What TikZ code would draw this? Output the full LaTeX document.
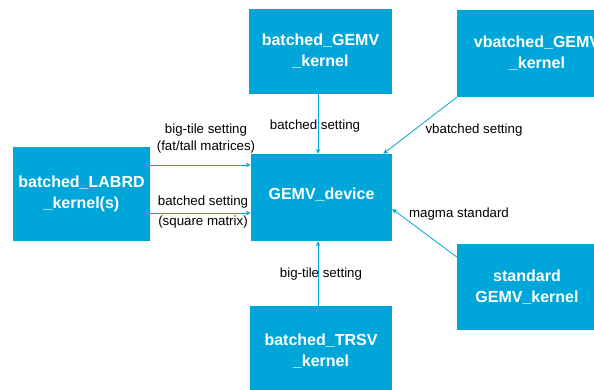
\documentclass[tikz,border=0pt]{standalone}
\usepackage{fontspec}
\setmainfont{Liberation Sans}
\usetikzlibrary{arrows.meta}
\definecolor{boxblue}{RGB}{0,166,218}
\tikzset{
  box/.style={rectangle, fill=boxblue, draw=none, text=white, align=center,
    font=\fontsize{16}{21}\selectfont\bfseries, inner sep=0pt},
  lbl/.style={font=\fontsize{13.3}{17}\selectfont, text=black, align=center, inner sep=0pt},
  conn/.style={draw=boxblue, line width=0.8pt, -{Stealth[length=5pt,width=4.5pt]}}
}
\begin{document}
\begin{tikzpicture}[x=1pt,y=-1pt]
\useasboundingbox (0,0) rectangle (594,390);
\clip (0,0) rectangle (594,390);
\fill[white] (0,0) rectangle (594,390);
\node[box, minimum width=137pt, minimum height=94pt] (lab) at (81.5,194) {batched\_LABRD\\\_kernel(s)};
\node[box, minimum width=141pt, minimum height=87pt] (gemv) at (321.5,197.5) {};
\node[box, anchor=center] (gemvt) at (321.5,194.5) {GEMV\_device};
\node[box, minimum width=143pt, minimum height=85pt] (bg) at (320.5,51.5) {batched\_GEMV\\\_kernel};
\node[box, minimum width=160pt, minimum height=87pt] (vb) at (537,53.5) {vbatched\_GEMV\\\_kernel};
\node[box, minimum width=140pt, minimum height=86pt] (std) at (527,287) {standard\\GEMV\_kernel};
\node[box, minimum width=142pt, minimum height=90pt] (trsv) at (321,351) {batched\_TRSV\\\_kernel};

\draw[conn] ([yshift=29pt]lab.east) -- ([yshift=29pt]lab.east -| gemv.west);
\draw[conn] ([yshift=-19pt]lab.east) -- ([yshift=-19pt]lab.east -| gemv.west);
\draw[conn] ([xshift=-2.5pt]bg.south) -- ([xshift=-3.5pt]gemv.north);
\draw[conn] (vb.south west) -- ([xshift=-9pt]gemv.north east);
\draw[conn] ([yshift=30pt]std.west) -- ([yshift=-11.5pt]gemv.east);
\draw[conn] ([xshift=-3pt]trsv.north) -- ([xshift=-3.5pt]gemv.south);

\node[lbl] (l1) at (206,138.5) {big-tile setting\\(fat/tall matrices)};
\node[lbl, font=\fontsize{13.3}{20}\selectfont] (l2) at (203,212) {batched setting\\(square matrix)};
\node[lbl] (l3) at (315,126) {batched setting};
\node[lbl] (l4) at (474,130) {vbatched setting};
\node[lbl] (l5) at (459,214) {magma standard};
\node[lbl] (l6) at (321,274) {big-tile setting};
\end{tikzpicture}
\end{document}
